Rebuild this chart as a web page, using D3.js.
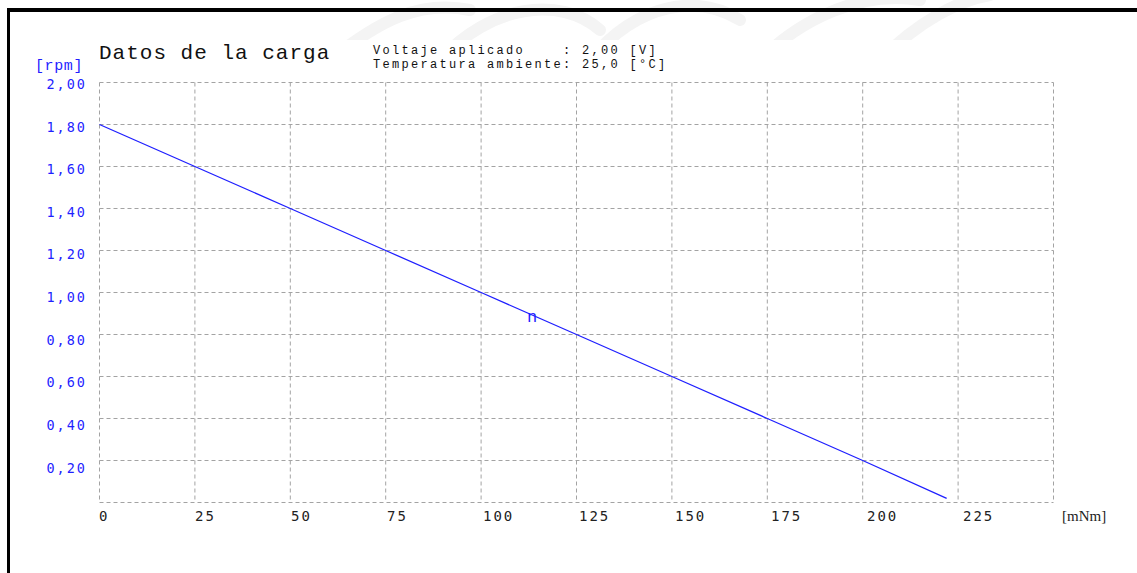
<!DOCTYPE html>
<html>
<head>
<meta charset="utf-8">
<script src="https://cdn.jsdelivr.net/npm/d3@7"></script>
<style>
  html, body { margin: 0; padding: 0; background: #fff; }
  svg { display: block; }
  text { white-space: pre; }
</style>
</head>
<body>
<svg id="chart" width="1137" height="573"></svg>
<script>
// Load curve: speed [rpm] versus load torque [mNm]
const torque = [0, 25, 50, 75, 100, 125, 150, 175, 200, 222];
const speed  = [1.80, 1.60, 1.40, 1.20, 1.00, 0.80, 0.60, 0.40, 0.20, 0.02];

const xTicks = [0, 25, 50, 75, 100, 125, 150, 175, 200, 225];
const xGrid  = [0, 25, 50, 75, 100, 125, 150, 175, 200, 225, 250];
const yTicks = [0.20, 0.40, 0.60, 0.80, 1.00, 1.20, 1.40, 1.60, 1.80, 2.00];
const yGrid  = [0, 0.20, 0.40, 0.60, 0.80, 1.00, 1.20, 1.40, 1.60, 1.80, 2.00];

const title = "Datos de la carga";
const infoLines = ["Voltaje aplicado    : 2,00 [V]", "Temperatura ambiente: 25,0 [°C]"];
const seriesName = "n";
const yUnit = "[rpm]";
const xUnit = "[mNm]";

const blue = "#1f1fff";
const gridColor = "#a3a3a3";

const svg = d3.select("#chart");

// faint background emblem along the top edge
const wm = svg.append("g").attr("fill", "none").attr("stroke", "#f4f4f4").attr("stroke-width", 12)
  .attr("stroke-linecap", "round");
const wmPaths = [
  "M330,60 C380,20 420,0 470,10",
  "M440,60 C490,5 560,-5 600,30",
  "M590,60 C640,0 700,-5 740,20",
  "M760,60 C800,20 860,-10 920,0",
  "M880,60 C920,20 960,0 990,-5"
];
wmPaths.forEach(p => wm.append("path").attr("d", p));

// white panel of the chart sheet
svg.append("rect").attr("x", 10).attr("y", 40).attr("width", 1127).attr("height", 533).attr("fill", "#fff");
svg.append("rect").attr("x", 10).attr("y", 12).attr("width", 217).attr("height", 30).attr("fill", "#fff");

// black frame: top and left edges
svg.append("rect").attr("x", 7).attr("y", 8).attr("width", 1130).attr("height", 4).attr("fill", "#000");
svg.append("rect").attr("x", 7).attr("y", 8).attr("width", 3).attr("height", 565).attr("fill", "#000");

const x = d3.scaleLinear().domain([0, 250]).range([99.5, 1053.5]);
const y = d3.scaleLinear().domain([0, 2]).range([502.5, 82.5]);
// label placement scales (tick text sits slightly offset from the grid)
const xLab = d3.scaleLinear().domain([0, 225]).range([99, 963]);
const yLab = d3.scaleLinear().domain([0.2, 2]).range([472.5, 89]);

// dashed grid
const grid = svg.append("g").attr("stroke", gridColor).attr("stroke-width", 1)
  .attr("stroke-dasharray", "4,3").attr("fill", "none");
grid.selectAll("line.v").data(xGrid).join("line").attr("class", "v")
  .attr("x1", d => x(d)).attr("x2", d => x(d))
  .attr("y1", y(2)).attr("y2", y(0));
grid.selectAll("line.h").data(yGrid).join("line").attr("class", "h")
  .attr("x1", x(0)).attr("x2", x(250))
  .attr("y1", d => y(d)).attr("y2", d => y(d));

const fmt = v => v.toFixed(2).replace(".", ",");

// y tick labels
svg.append("g").selectAll("text").data(yTicks).join("text")
  .attr("x", 87).attr("y", d => yLab(d))
  .attr("text-anchor", "end")
  .attr("font-family", "DejaVu Sans Mono").attr("font-size", 13.5).attr("letter-spacing", 2)
  .attr("fill", blue).text(fmt);

// x tick labels
svg.append("g").selectAll("text").data(xTicks).join("text")
  .attr("x", d => xLab(d)).attr("y", 521)
  .attr("font-family", "DejaVu Sans Mono").attr("font-size", 14).attr("letter-spacing", 2)
  .attr("fill", "#222").text(d => d);

// units
svg.append("text").attr("x", 35).attr("y", 70)
  .attr("font-family", "Liberation Mono").attr("font-size", 15).attr("letter-spacing", 0.6)
  .attr("fill", blue).text(yUnit);
svg.append("text").attr("x", 1062).attr("y", 521)
  .attr("font-family", "Liberation Serif").attr("font-size", 15)
  .attr("fill", "#222").text(xUnit);

// header
svg.append("text").attr("x", 99).attr("y", 59)
  .attr("font-family", "Liberation Mono").attr("font-size", 21).attr("letter-spacing", 1)
  .attr("fill", "#111").text(title);
svg.append("g").selectAll("text").data(infoLines).join("text")
  .attr("x", 373).attr("y", (d, i) => 54 + i * 14)
  .attr("font-family", "Liberation Mono").attr("font-size", 12).attr("letter-spacing", 2.3)
  .attr("fill", "#111").text(d => d);

// speed curve
const pts = torque.map((t, i) => [t, speed[i]]);
svg.append("path").datum(pts)
  .attr("fill", "none").attr("stroke", blue).attr("stroke-width", 1.3)
  .attr("d", d3.line().x(d => x(d[0])).y(d => y(d[1])));

svg.append("text").attr("x", x(112)).attr("y", y(0.86))
  .attr("font-family", "Liberation Mono").attr("font-size", 17)
  .attr("fill", blue).text(seriesName);
</script>
</body>
</html>
